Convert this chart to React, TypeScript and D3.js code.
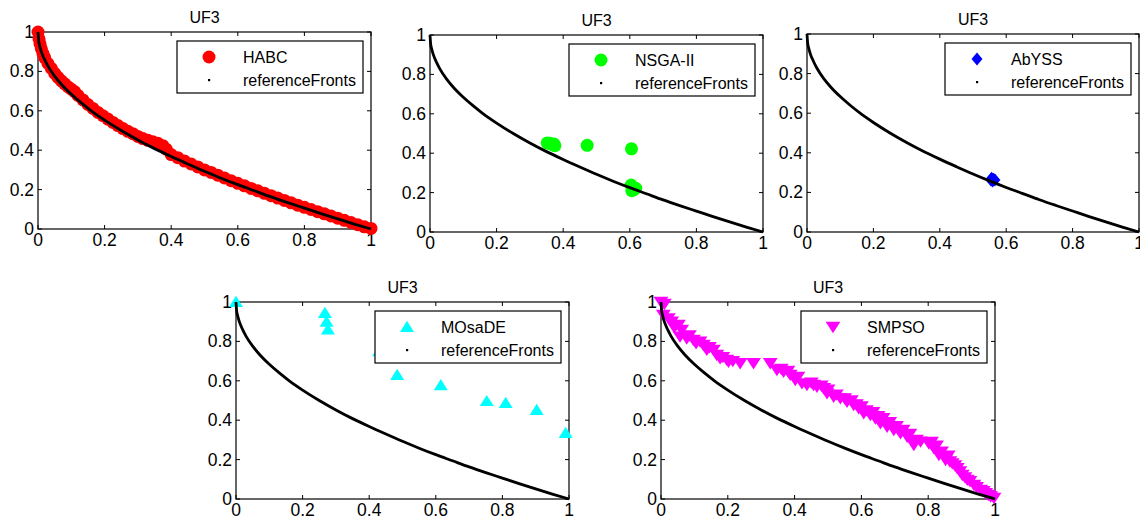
import React from "react";
import * as d3 from "d3";

// ---------- data ----------
const tickValues = [0, 0.2, 0.4, 0.6, 0.8, 1];
const tickLabels = ["0", "0.2", "0.4", "0.6", "0.8", "1"];
const titleText = "UF3";
const refName = "referenceFronts";

const refX = [0, 0.002, 0.005, 0.01, 0.02, 0.03, 0.05, 0.07, 0.1, 0.13, 0.16, 0.2, 0.25, 0.3, 0.35, 0.4, 0.45, 0.5, 0.55, 0.6, 0.65, 0.7, 0.75, 0.8, 0.85, 0.9, 0.95, 1];
const refY = [1, 0.955, 0.93, 0.9, 0.86, 0.827, 0.776, 0.735, 0.684, 0.64, 0.6, 0.553, 0.5, 0.452, 0.408, 0.368, 0.33, 0.293, 0.258, 0.225, 0.194, 0.163, 0.134, 0.106, 0.078, 0.051, 0.025, 0];

const habcX = [0, 0.003, 0.006, 0.01, 0.015, 0.02, 0.03, 0.04, 0.05, 0.06, 0.07, 0.08, 0.09, 0.1, 0.11, 0.12, 0.135, 0.15, 0.165, 0.18, 0.195, 0.21, 0.225, 0.24, 0.255, 0.27, 0.285, 0.3, 0.315, 0.33, 0.345, 0.36, 0.375, 0.385, 0.4, 0.42, 0.44, 0.46, 0.48, 0.5, 0.52, 0.54, 0.56, 0.58, 0.6, 0.62, 0.64, 0.66, 0.68, 0.7, 0.72, 0.74, 0.76, 0.78, 0.8, 0.82, 0.84, 0.86, 0.88, 0.9, 0.92, 0.94, 0.96, 0.98, 1];
const habcY = [1, 0.965, 0.94, 0.915, 0.89, 0.87, 0.84, 0.815, 0.79, 0.77, 0.752, 0.737, 0.722, 0.71, 0.697, 0.678, 0.655, 0.632, 0.612, 0.592, 0.575, 0.558, 0.541, 0.525, 0.51, 0.496, 0.484, 0.47, 0.459, 0.45, 0.443, 0.435, 0.423, 0.405, 0.378, 0.362, 0.345, 0.33, 0.315, 0.3, 0.287, 0.273, 0.259, 0.245, 0.232, 0.219, 0.206, 0.194, 0.181, 0.169, 0.157, 0.145, 0.133, 0.121, 0.11, 0.099, 0.088, 0.077, 0.066, 0.055, 0.044, 0.033, 0.022, 0.011, 0.003];

const nsgaX = [0.352, 0.36, 0.368, 0.375, 0.372, 0.472, 0.605, 0.604, 0.608, 0.612, 0.618, 0.606];
const nsgaY = [0.452, 0.45, 0.443, 0.438, 0.447, 0.44, 0.422, 0.238, 0.225, 0.215, 0.222, 0.21];

const abyssX = [0.556, 0.562, 0.566, 0.559, 0.554];
const abyssY = [0.272, 0.266, 0.262, 0.258, 0.262];

const mosadeX = [0, 0.267, 0.272, 0.276, 0.43, 0.484, 0.615, 0.753, 0.81, 0.903, 0.99];
const mosadeY = [1, 0.944, 0.9, 0.86, 0.75, 0.63, 0.578, 0.497, 0.487, 0.452, 0.335];

const smpsoX = [0, 0.01, 0.007, 0.022, 0.032, 0.052, 0.062, 0.057, 0.077, 0.097, 0.117, 0.127, 0.137, 0.157, 0.167, 0.177, 0.197, 0.202, 0.237, 0.277, 0.327, 0.347, 0.367, 0.387, 0.402, 0.422, 0.437, 0.457, 0.467, 0.487, 0.497, 0.517, 0.537, 0.557, 0.577, 0.592, 0.607, 0.627, 0.642, 0.657, 0.677, 0.697, 0.717, 0.737, 0.757, 0.777, 0.802, 0.817, 0.832, 0.852, 0.872, 0.887, 0.902, 0.917, 0.937, 0.957, 0.972, 0.987, 0.997,
  0.04, 0.085, 0.105, 0.145, 0.185, 0.215, 0.36, 0.38, 0.41, 0.45, 0.48, 0.5, 0.525, 0.55, 0.57, 0.585, 0.6, 0.615, 0.635, 0.65, 0.665, 0.685, 0.705, 0.725, 0.745, 0.757, 0.765, 0.81, 0.825, 0.84, 0.86, 0.865, 0.88, 0.895, 0.91, 0.925, 0.945, 0.965, 0.98];
const smpsoY = [1, 0.99, 0.934, 0.917, 0.9, 0.883, 0.858, 0.824, 0.815, 0.807, 0.799, 0.782, 0.757, 0.757, 0.731, 0.714, 0.706, 0.697, 0.689, 0.689, 0.689, 0.655, 0.646, 0.63, 0.604, 0.587, 0.579, 0.579, 0.57, 0.562, 0.536, 0.519, 0.511, 0.494, 0.477, 0.46, 0.435, 0.426, 0.409, 0.384, 0.367, 0.35, 0.333, 0.316, 0.291, 0.291, 0.282, 0.257, 0.223, 0.198, 0.181, 0.156, 0.122, 0.097, 0.071, 0.046, 0.03, 0.013, 0.005,
  0.87, 0.83, 0.79, 0.77, 0.72, 0.7, 0.66, 0.65, 0.62, 0.59, 0.575, 0.555, 0.53, 0.51, 0.5, 0.48, 0.47, 0.45, 0.44, 0.42, 0.41, 0.39, 0.37, 0.35, 0.33, 0.274, 0.3, 0.29, 0.27, 0.24, 0.22, 0.19, 0.17, 0.14, 0.11, 0.09, 0.06, 0.04, 0.02];

// ---------- layout ----------
type Box = { l: number; r: number; t: number; b: number };
type MarkerKind = "circle" | "diamond" | "triUp" | "triDown";

const FONT = "'Liberation Sans', Arial, Helvetica, sans-serif";

function Marker({ kind, cx, cy, color }: { kind: MarkerKind; cx: number; cy: number; color: string }) {
  if (kind === "circle") return <circle cx={cx} cy={cy} r={6.5} fill={color} />;
  let d = "";
  if (kind === "diamond") d = "M0,-6.5L5.5,0L0,6.5L-5.5,0Z";
  if (kind === "triUp") d = "M0,-6.2L7,5L-7,5Z";
  if (kind === "triDown") d = "M-7.4,-5.2L7.4,-5.2L0,6.2Z";
  return <path d={d} transform={`translate(${cx},${cy})`} fill={color} />;
}

function Panel({ box, name, xs, ys, kind, color }: { box: Box; name: string; xs: number[]; ys: number[]; kind: MarkerKind; color: string }) {
  const x = d3.scaleLinear().domain([0, 1]).range([box.l, box.r]);
  const y = d3.scaleLinear().domain([0, 1]).range([box.b, box.t]);
  const line = d3
    .line<number>()
    .x((d) => x(refX[d]))
    .y((d) => y(refY[d]))
    .curve(d3.curveMonotoneX);
  const idx = d3.range(refX.length);
  const tl = 4;
  const lw = 186, lh = 52;
  const lx = box.r - 8 - lw;
  const ly = box.t + 9;
  return (
    <g>
      <text x={(box.l + box.r) / 2} y={box.t - 9} textAnchor="middle" fontSize={16} fontFamily={FONT}>{titleText}</text>
      {tickValues.map((v, i) => (
        <g key={"t" + i} stroke="#000" strokeWidth={1}>
          <line x1={x(v)} x2={x(v)} y1={box.b} y2={box.b - tl} />
          <line x1={x(v)} x2={x(v)} y1={box.t} y2={box.t + tl} />
          <line x1={box.l} x2={box.l + tl} y1={y(v)} y2={y(v)} />
          <line x1={box.r} x2={box.r - tl} y1={y(v)} y2={y(v)} />
        </g>
      ))}
      {tickValues.map((v, i) => (
        <text key={"xl" + i} x={x(v)} y={box.b + 17} textAnchor="middle" fontSize={17.5} fontFamily={FONT}>{tickLabels[i]}</text>
      ))}
      {tickValues.map((v, i) => (
        <text key={"yl" + i} x={box.l - 4} y={y(v) + 6} textAnchor="end" fontSize={17.5} fontFamily={FONT}>{tickLabels[i]}</text>
      ))}
      <rect x={box.l} y={box.t} width={box.r - box.l} height={box.b - box.t} fill="none" stroke="#000" strokeWidth={1.2} />
      {xs.map((v, i) => (
        <Marker key={"m" + i} kind={kind} cx={x(v)} cy={y(ys[i])} color={color} />
      ))}
      <path d={line(idx) || ""} fill="none" stroke="#000" strokeWidth={2.8} />
      <rect x={lx} y={ly} width={lw} height={lh} fill="#fff" stroke="#000" strokeWidth={1.2} />
      <Marker kind={kind} cx={lx + 32} cy={ly + 16} color={color} />
      <text x={lx + 66} y={ly + 16 + 5.5} fontSize={16} fontFamily={FONT}>{name}</text>
      <rect x={lx + 31} y={ly + 38} width={2.2} height={2.2} fill="#000" />
      <text x={lx + 66} y={ly + 39 + 5.5} fontSize={16} fontFamily={FONT}>{refName}</text>
    </g>
  );
}

export default function App() {
  return (
    <svg width={1140} height={522} style={{ position: "absolute", left: 0, top: 0, background: "#fff" }}>
      <rect width={1140} height={522} fill="#fff" />
      <Panel box={{ l: 38, r: 371, t: 32, b: 229 }} name="HABC" xs={habcX} ys={habcY} kind="circle" color="#ff0000" />
      <Panel box={{ l: 430, r: 763, t: 35, b: 232 }} name="NSGA-II" xs={nsgaX} ys={nsgaY} kind="circle" color="#00ff00" />
      <Panel box={{ l: 807, r: 1139, t: 34, b: 232 }} name="AbYSS" xs={abyssX} ys={abyssY} kind="diamond" color="#0000ff" />
      <Panel box={{ l: 236, r: 569, t: 302, b: 499 }} name="MOsaDE" xs={mosadeX} ys={mosadeY} kind="triUp" color="#00ffff" />
      <Panel box={{ l: 661, r: 995, t: 302, b: 499 }} name="SMPSO" xs={smpsoX} ys={smpsoY} kind="triDown" color="#ff00ff" />
    </svg>
  );
}
